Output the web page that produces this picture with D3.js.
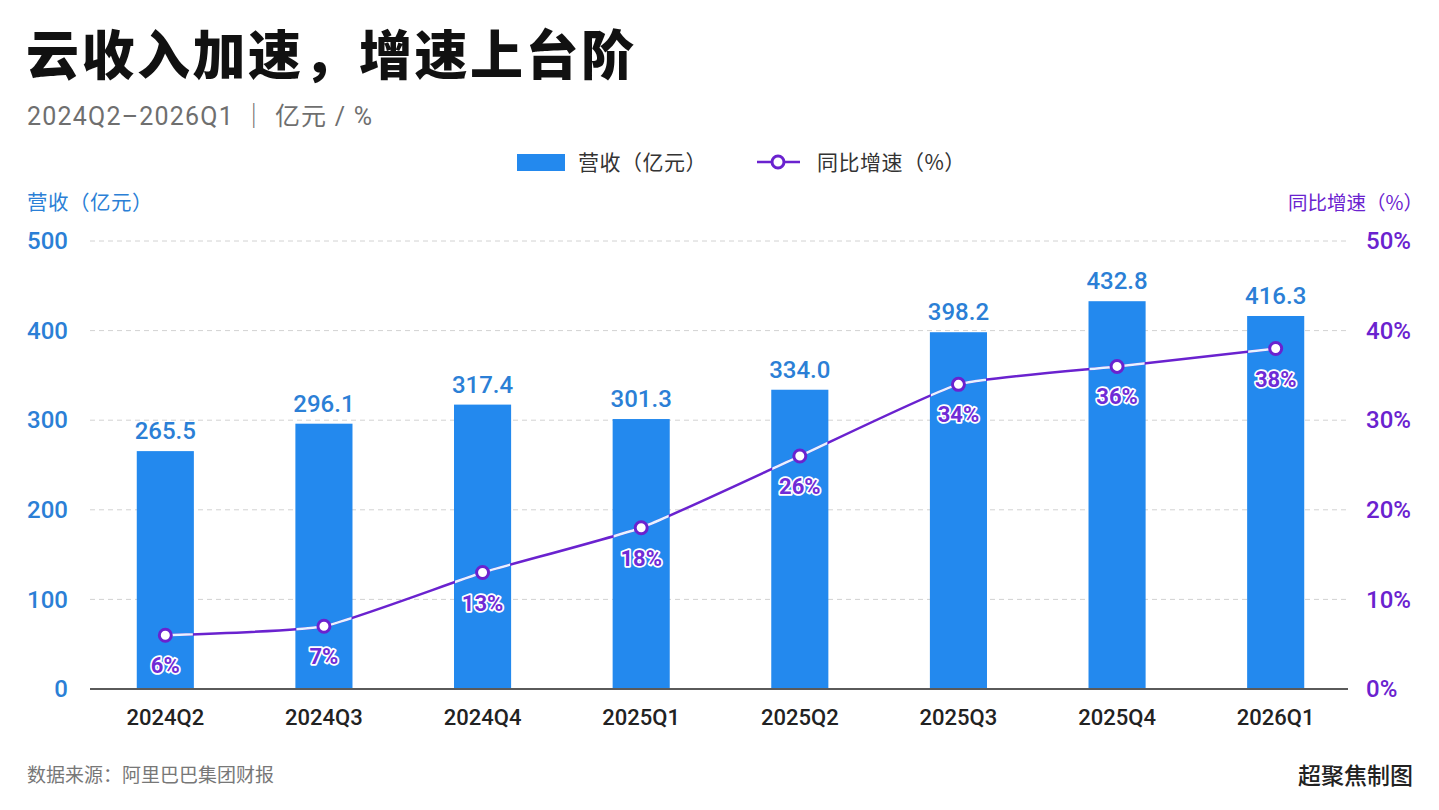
<!DOCTYPE html>
<html>
<head>
<meta charset="utf-8">
<script src="https://cdn.jsdelivr.net/npm/d3@7"></script>
<style>
  html, body { margin: 0; padding: 0; background: #fff; }
  svg { display: block; }
</style>
</head>
<body>
<div id="chart"></div>
<script>
// data
const quarters = ["2024Q2", "2024Q3", "2024Q4", "2025Q1", "2025Q2", "2025Q3", "2025Q4", "2026Q1"];
const revenue = [265.5, 296.1, 317.4, 301.3, 334.0, 398.2, 432.8, 416.3];
const growth = [6, 7, 13, 18, 26, 34, 36, 38];
const revenueTicks = [0, 100, 200, 300, 400, 500];
const growthTicks = [0, 10, 20, 30, 40, 50];

const W = 1439, H = 810;
const barColor = "#2389ee";
const blueText = "#2b7fd6";
const purple = "#6a22cf";
const numFont = "Roboto, 'Noto Sans CJK SC', sans-serif";
const cjkFont = "'Noto Sans CJK SC', 'Noto Sans', sans-serif";

const plot = { left: 90, right: 1348, top: 241, bottom: 689 };

const svg = d3.select("#chart").append("svg")
  .attr("width", W)
  .attr("height", H);

// title + subtitle
svg.append("text")
  .attr("x", 26).attr("y", 75)
  .attr("font-family", cjkFont)
  .attr("font-weight", 900)
  .attr("font-size", 53)
  .attr("letter-spacing", 2.5)
  .attr("fill", "#111")
  .text("云收入加速，增速上台阶");

svg.append("text")
  .attr("x", 27).attr("y", 125)
  .attr("font-family", numFont)
  .attr("font-size", 25)
  .attr("letter-spacing", 1.2)
  .attr("fill", "#6f6f6f")
  .text("2024Q2–2026Q1 ｜ 亿元 / %");

// scales
const x = d3.scaleBand()
  .domain(quarters)
  .range([86, 1355])
  .paddingInner(0.64)
  .paddingOuter(0.32);

const y = d3.scaleLinear().domain([0, 500]).range([plot.bottom, plot.top]);
const y2 = d3.scaleLinear().domain([0, 50]).range([plot.bottom, plot.top]);

// gridlines
svg.append("g")
  .selectAll("line")
  .data(revenueTicks.slice(1))
  .join("line")
  .attr("x1", plot.left).attr("x2", plot.right)
  .attr("y1", d => y(d)).attr("y2", d => y(d))
  .attr("stroke", "#d2d2d2")
  .attr("stroke-width", 1)
  .attr("stroke-dasharray", "5,4");

// left axis
const leftAxis = svg.append("g")
  .attr("transform", `translate(68,0)`)
  .call(d3.axisLeft(y).tickValues(revenueTicks).tickSize(0).tickPadding(0));
leftAxis.select(".domain").remove();
leftAxis.selectAll("text")
  .attr("font-family", numFont)
  .attr("font-weight", 500)
  .attr("font-size", 24)
  .attr("fill", blueText);

// right axis
const rightAxis = svg.append("g")
  .attr("transform", `translate(1366,0)`)
  .call(d3.axisRight(y2).tickValues(growthTicks).tickSize(0).tickPadding(0).tickFormat(d => d + "%"));
rightAxis.select(".domain").remove();
rightAxis.selectAll("text")
  .attr("font-family", numFont)
  .attr("font-weight", 500)
  .attr("font-size", 24)
  .attr("fill", purple);

// axis titles
svg.append("text")
  .attr("x", 27).attr("y", 210)
  .attr("font-family", cjkFont)
  .attr("font-size", 20.5)
  .attr("letter-spacing", 0.5)
  .attr("fill", blueText)
  .text("营收（亿元）");

svg.append("text")
  .attr("x", 1423).attr("y", 210)
  .attr("text-anchor", "end")
  .attr("font-family", cjkFont)
  .attr("font-size", 19.5)
  .attr("fill", purple)
  .text("同比增速（%）");

// bars
svg.append("g")
  .selectAll("rect")
  .data(quarters)
  .join("rect")
  .attr("x", d => x(d))
  .attr("y", (d, i) => y(revenue[i]))
  .attr("width", x.bandwidth())
  .attr("height", (d, i) => y(0) - y(revenue[i]))
  .attr("fill", barColor);

// clip of bars, used to draw the line light where it crosses a bar
svg.append("defs").append("clipPath")
  .attr("id", "barClip")
  .selectAll("rect")
  .data(quarters)
  .join("rect")
  .attr("x", d => x(d) + 1)
  .attr("y", (d, i) => y(revenue[i]))
  .attr("width", x.bandwidth() - 2)
  .attr("height", (d, i) => y(0) - y(revenue[i]));

// bar labels
svg.append("g")
  .selectAll("text")
  .data(quarters)
  .join("text")
  .attr("x", d => x(d) + x.bandwidth() / 2)
  .attr("y", (d, i) => y(revenue[i]) - 12)
  .attr("text-anchor", "middle")
  .attr("font-family", numFont)
  .attr("font-weight", 500)
  .attr("font-size", 24)
  .attr("fill", blueText)
  .text((d, i) => revenue[i].toFixed(1));

// baseline
svg.append("line")
  .attr("x1", plot.left).attr("x2", plot.right)
  .attr("y1", y(0)).attr("y2", y(0))
  .attr("stroke", "#5a5a5a")
  .attr("stroke-width", 2);

// x labels
svg.append("g")
  .selectAll("text")
  .data(quarters)
  .join("text")
  .attr("x", d => x(d) + x.bandwidth() / 2)
  .attr("y", 725)
  .attr("text-anchor", "middle")
  .attr("font-family", numFont)
  .attr("font-weight", 500)
  .attr("font-size", 22)
  .attr("fill", "#222")
  .text(d => d);

// growth line
const line = d3.line()
  .x((d, i) => x(quarters[i]) + x.bandwidth() / 2)
  .y(d => y2(d))
  .curve(d3.curveCardinal.tension(0.55));

svg.append("path")
  .datum(growth)
  .attr("d", line)
  .attr("fill", "none")
  .attr("stroke", purple)
  .attr("stroke-width", 2.5);

svg.append("path")
  .datum(growth)
  .attr("d", line)
  .attr("clip-path", "url(#barClip)")
  .attr("fill", "none")
  .attr("stroke", "#e8f3ff")
  .attr("stroke-width", 2.5);

svg.append("g")
  .selectAll("circle")
  .data(growth)
  .join("circle")
  .attr("cx", (d, i) => x(quarters[i]) + x.bandwidth() / 2)
  .attr("cy", d => y2(d))
  .attr("r", 6)
  .attr("fill", "#fff")
  .attr("stroke", purple)
  .attr("stroke-width", 3);

svg.append("g")
  .selectAll("text")
  .data(growth)
  .join("text")
  .attr("x", (d, i) => x(quarters[i]) + x.bandwidth() / 2)
  .attr("y", d => y2(d) + 38)
  .attr("text-anchor", "middle")
  .attr("font-family", numFont)
  .attr("font-weight", 700)
  .attr("font-size", 22)
  .attr("fill", "#6f2bd6")
  .attr("stroke", "#fff")
  .attr("stroke-width", 3.5)
  .attr("stroke-linejoin", "round")
  .attr("paint-order", "stroke")
  .text(d => d + "%");

// legend
const legend = svg.append("g");
legend.append("rect")
  .attr("x", 517).attr("y", 154)
  .attr("width", 48).attr("height", 17)
  .attr("fill", barColor);
legend.append("text")
  .attr("x", 578).attr("y", 170)
  .attr("font-family", cjkFont)
  .attr("font-size", 21)
  .attr("letter-spacing", 0.5)
  .attr("fill", "#333")
  .text("营收（亿元）");
legend.append("line")
  .attr("x1", 757).attr("x2", 800)
  .attr("y1", 162).attr("y2", 162)
  .attr("stroke", purple)
  .attr("stroke-width", 2.5);
legend.append("circle")
  .attr("cx", 778).attr("cy", 162)
  .attr("r", 6)
  .attr("fill", "#fff")
  .attr("stroke", purple)
  .attr("stroke-width", 3);
legend.append("text")
  .attr("x", 817).attr("y", 170)
  .attr("font-family", cjkFont)
  .attr("font-size", 21)
  .attr("letter-spacing", 0.5)
  .attr("fill", "#333")
  .text("同比增速（%）");

// footer
svg.append("text")
  .attr("x", 27).attr("y", 782)
  .attr("font-family", cjkFont)
  .attr("font-size", 19)
  .attr("fill", "#777")
  .text("数据来源：阿里巴巴集团财报");

svg.append("text")
  .attr("x", 1413).attr("y", 784)
  .attr("text-anchor", "end")
  .attr("font-family", cjkFont)
  .attr("font-weight", 500)
  .attr("font-size", 23)
  .attr("fill", "#222")
  .text("超聚焦制图");
</script>
</body>
</html>
